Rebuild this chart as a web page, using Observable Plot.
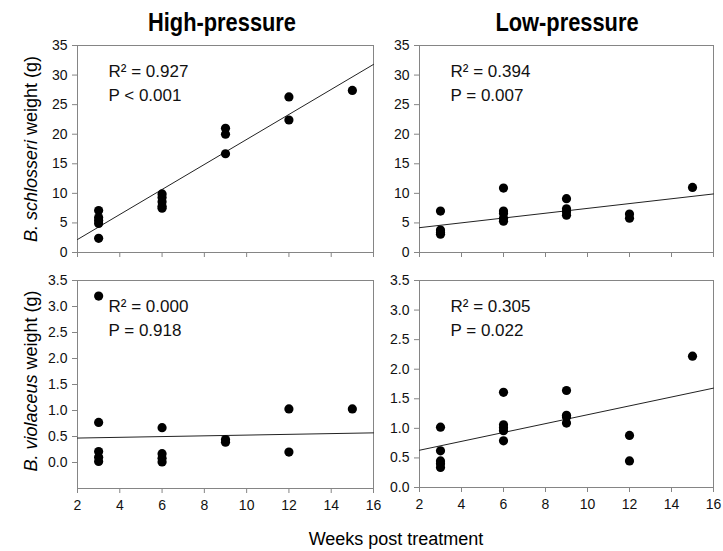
<!DOCTYPE html>
<html>
<head>
<meta charset="utf-8">
<script src="https://cdn.jsdelivr.net/npm/d3@7"></script>
<script src="https://cdn.jsdelivr.net/npm/@observablehq/plot@0.6"></script>
<style>
  body { margin: 0; background: #fff; }
  #root { position: relative; width: 723px; height: 551px; background: #fff; overflow: hidden; }
  .panel { position: absolute; }
  #overlay { position: absolute; left: 0; top: 0; pointer-events: none; }
</style>
</head>
<body>
<div id="root"></div>
<script>
// ---------- data ----------
const xTicks = [2, 4, 6, 8, 10, 12, 14, 16];
const topYTicks = [0, 5, 10, 15, 20, 25, 30, 35];
const bottomYTicks = [0, 0.5, 1, 1.5, 2, 2.5, 3, 3.5];

const columnTitles = ["High-pressure", "Low-pressure"];

// B. schlosseri, high-pressure
const hpSchlWeeks  = [3, 3, 3, 3, 3, 6, 6, 6, 6, 6, 9, 9, 9, 12, 12, 15];
const hpSchlWeight = [7.1, 5.9, 5.4, 4.9, 2.4, 9.9, 9.3, 8.6, 7.8, 7.5, 21.0, 20.0, 16.7, 26.3, 22.4, 27.4];
// B. schlosseri, low-pressure
const lpSchlWeeks  = [3, 3, 3, 3, 6, 6, 6, 6, 6, 9, 9, 9, 9, 12, 12, 15];
const lpSchlWeight = [7.0, 3.8, 3.4, 3.1, 10.9, 7.0, 6.6, 5.8, 5.3, 9.1, 7.4, 6.9, 6.3, 6.5, 5.8, 11.0];
// B. violaceus, high-pressure
const hpViolWeeks  = [3, 3, 3, 3, 3, 6, 6, 6, 6, 9, 9, 12, 12, 15];
const hpViolWeight = [3.2, 0.77, 0.21, 0.10, 0.02, 0.67, 0.17, 0.08, 0.01, 0.44, 0.39, 1.03, 0.20, 1.03];
// B. violaceus, low-pressure
const lpViolWeeks  = [3, 3, 3, 3, 3, 6, 6, 6, 6, 6, 9, 9, 9, 9, 12, 12, 15];
const lpViolWeight = [1.02, 0.62, 0.45, 0.40, 0.34, 1.61, 1.06, 1.01, 0.96, 0.79, 1.64, 1.22, 1.19, 1.09, 0.88, 0.45, 2.22];

// fitted regression line, value at x = 2 and x = 16 (order: HP schl, LP schl, HP viol, LP viol)
const fitAt2  = [2.2, 4.2, 0.47, 0.63];
const fitAt16 = [31.8, 9.9, 0.57, 1.68];
const fitWeeks = [2, 16];

const r2Labels = ["R² = 0.927", "R² = 0.394", "R² = 0.000", "R² = 0.305"];
const pLabels  = ["P < 0.001", "P = 0.007", "P = 0.918", "P = 0.022"];

// ---------- drawing ----------
const root = document.getElementById("root");
const FONT = "'Liberation Sans', Arial, Helvetica, sans-serif";
const GRAY = "#858585";

function panel(i, weeks, weights, o) {
  const pts = weeks.map((w, k) => ({week: w, weight: weights[k]}));
  const fit = fitWeeks.map((w, k) => ({week: w, weight: k === 0 ? fitAt2[i] : fitAt16[i]}));
  const chart = Plot.plot({
    width: o.width, height: o.height,
    marginLeft: o.mL, marginTop: o.mT, marginRight: o.mR, marginBottom: o.mB,
    x: {domain: [2, 16]},
    y: {domain: o.yDomain},
    style: {fontFamily: FONT, fontSize: "14px", color: "#000", background: "transparent", overflow: "visible"},
    marks: [
      Plot.axisY({ticks: o.yTicks, tickSize: 5, tickPadding: 5, tickFormat: o.yFmt, stroke: GRAY, fill: "#111", label: null}),
      Plot.axisX({ticks: xTicks, tickSize: 5, tickPadding: 7, tickFormat: o.showX ? (d => String(d)) : (() => ""), stroke: GRAY, fill: "#111", label: null}),
      Plot.frame({stroke: GRAY}),
      Plot.line(fit, {x: "week", y: "weight", stroke: "#222", strokeWidth: 1}),
      Plot.dot(pts, {x: "week", y: "weight", r: 4.6, fill: "#000", stroke: "none"}),
      Plot.text([r2Labels[i]], {text: d => d, frameAnchor: "top-left", dx: 31, dy: 31, lineAnchor: "bottom", textAnchor: "start", fontSize: 17, fill: "#111"}),
      Plot.text([pLabels[i]], {text: d => d, frameAnchor: "top-left", dx: 31, dy: 55, lineAnchor: "bottom", textAnchor: "start", fontSize: 17, fill: "#111"})
    ]
  });
  const div = document.createElement("div");
  div.className = "panel";
  div.style.left = o.left + "px";
  div.style.top = o.top + "px";
  div.appendChild(chart);
  root.appendChild(div);
}

const fmt0 = d => String(d);
const fmt1 = d => d.toFixed(1);

panel(0, hpSchlWeeks, hpSchlWeight, {left: 30, top: 30, width: 350, height: 240, mL: 47, mT: 15, mR: 7, mB: 18, yDomain: [0, 35], yTicks: topYTicks, yFmt: fmt0, showX: false});
panel(1, lpSchlWeeks, lpSchlWeight, {left: 390, top: 30, width: 330, height: 240, mL: 29, mT: 15, mR: 7, mB: 18, yDomain: [0, 35], yTicks: topYTicks, yFmt: fmt0, showX: false});
panel(2, hpViolWeeks, hpViolWeight, {left: 30, top: 265, width: 350, height: 260, mL: 47, mT: 15, mR: 7, mB: 37, yDomain: [-0.5, 3.5], yTicks: bottomYTicks, yFmt: fmt1, showX: true});
panel(3, lpViolWeeks, lpViolWeight, {left: 390, top: 265, width: 330, height: 260, mL: 29, mT: 15, mR: 7, mB: 38, yDomain: [0, 3.5], yTicks: bottomYTicks, yFmt: fmt1, showX: true});

// ---------- titles and axis labels ----------
const svg = d3.select(root).append("svg")
  .attr("id", "overlay").attr("width", 723).attr("height", 551)
  .style("font-family", FONT);

svg.selectAll("text.title").data(columnTitles).join("text")
  .attr("class", "title")
  .attr("transform", (d, i) => `translate(${i === 0 ? 222 : 567},31) scale(0.84,1)`)
  .attr("text-anchor", "middle")
  .style("font-family", "'Liberation Sans Narrow', 'Arial Narrow', 'Liberation Sans', sans-serif")
  .style("font-weight", "bold")
  .style("font-size", "26px")
  .text(d => d);

function yLabel(cx, cy, genus, species) {
  const t = svg.append("text")
    .attr("transform", `translate(${cx},${cy}) rotate(-90)`)
    .attr("text-anchor", "middle")
    .style("font-size", "18px");
  t.append("tspan").style("font-style", "italic").text(genus + " " + species);
  t.append("tspan").text(" weight (g)");
}
yLabel(37, 149, "B.", "schlosseri");
yLabel(37, 381, "B.", "violaceus");

svg.append("text")
  .attr("x", 396).attr("y", 545)
  .attr("text-anchor", "middle")
  .style("font-size", "18px")
  .text("Weeks post treatment");
</script>
</body>
</html>
